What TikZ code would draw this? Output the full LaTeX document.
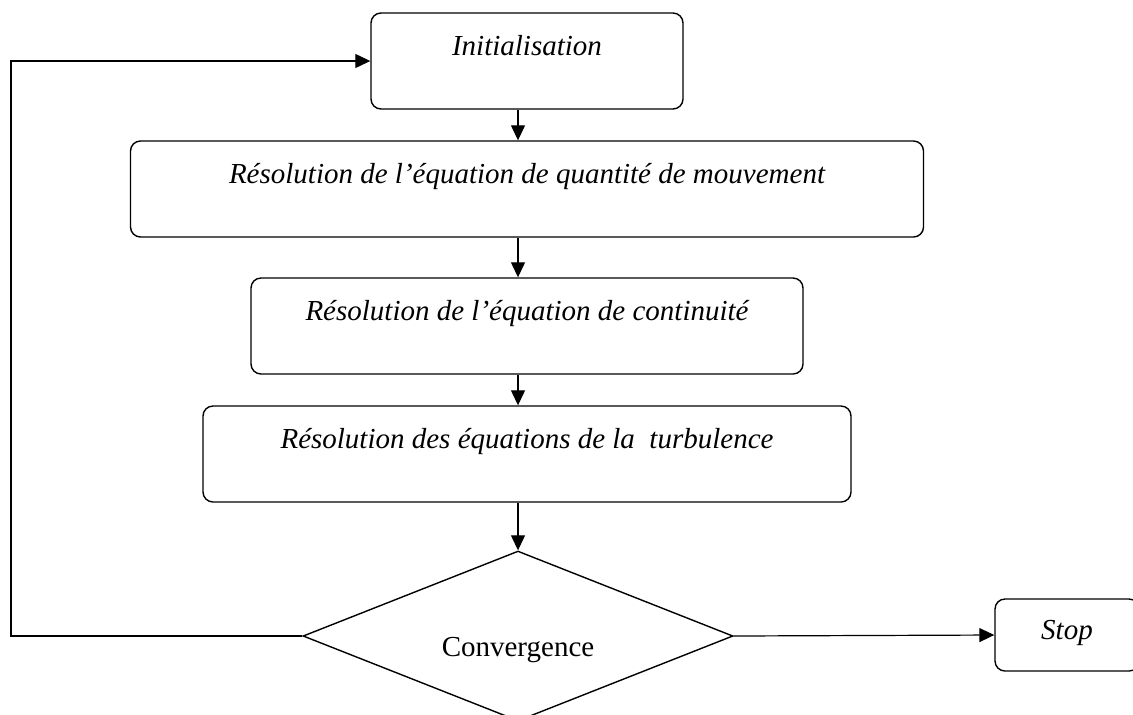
\documentclass[tikz,border=0pt]{standalone}
\usepackage{fontspec}
\setmainfont{Liberation Serif}
\usetikzlibrary{shapes.geometric}
\usetikzlibrary{positioning,arrows.meta}

\begin{document}
\begin{tikzpicture}[x=0.5pt,y=-0.5pt,->,>={Triangle[length=7.5pt,width=7pt]},line width=0.6pt,
	font=\fontsize{14.5}{17}\selectfont,
	box node/.style={draw,rounded corners=5pt,inner sep=0pt,line width=0.7pt,anchor=base,
		text height=21pt,text depth=27pt,font=\fontsize{14.5}{17}\selectfont\itshape},
	test node/.style={diamond,draw,inner sep=0pt,line width=0.7pt,anchor=base,aspect=2.53,
		minimum width=215pt,minimum height=85pt,text height=20pt,text depth=0pt}]
	
	\clip (0,0) rectangle (1133,714);
	
	\node[box node, minimum width=156pt] (init) at (527,55) {Initialisation};
	\node[box node, minimum width=396.5pt] (mom) at (527,183) {Résolution de l’équation de quantité de mouvement};
	\node[box node, minimum width=276pt] (cont) at (527,320) {Résolution de l’équation de continuité};
	\node[box node, minimum width=324pt] (turb) at (527,448) {Résolution des équations de la\ \ turbulence};
	\node[test node] (conv) at (518,656) {Convergence};
	\node[box node, minimum width=72pt, text height=20pt, text depth=16pt] (stop) at (1067,639) {Stop};
	\coordinate (back) at (11,636);
	
	\path (conv.north |- init.south) edge (conv.north |- mom.north)
	(conv.north |- mom.south) edge (conv.north |- cont.north)
	(conv.north |- cont.south) edge (conv.north |- turb.north)
	(conv.north |- turb.south) edge (conv.north)
	(conv.east) edge (stop.west);
	\draw (conv.west) -- (back) |- (init.west);
\end{tikzpicture}
\end{document}
